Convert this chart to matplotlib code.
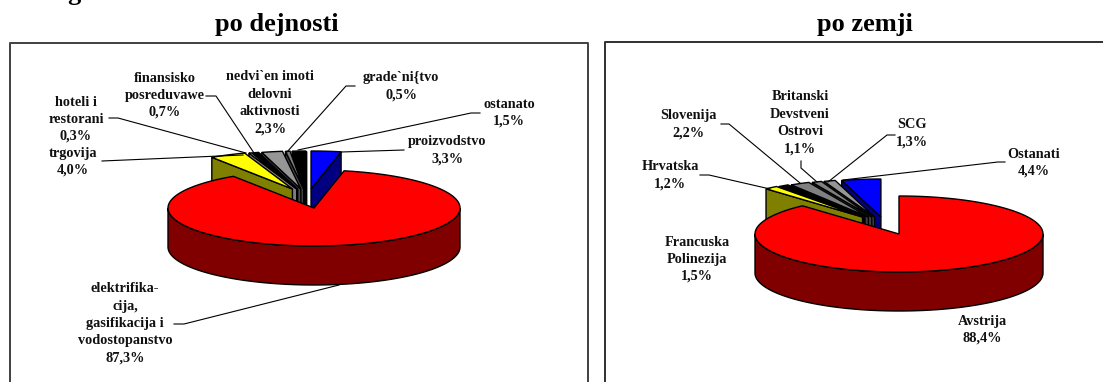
import numpy as np
import matplotlib
matplotlib.use('Agg')
import matplotlib.pyplot as plt
from matplotlib.colors import to_rgb
from matplotlib.patches import Polygon

# left chart, clockwise from 12 o'clock
left_names = ['proizvodstvo', 'elektrifika-\ncija,\ngasifikacija i\nvodostopanstvo', 'trgovija',
              'hoteli i\nrestorani', 'finansisko\nposreduvawe', 'nedvi`en imoti\ndelovni\naktivnosti',
              'grade`ni{tvo', 'ostanato']
left_values = [3.3, 87.3, 4.0, 0.3, 0.7, 2.3, 0.5, 1.5]
left_colors = ['#0000ff', '#ff0000', '#ffff00', '#ffffff', '#000000', '#969696', '#808080', '#000000']

# right chart
right_names = ['Avstrija', 'Francuska\nPolinezija', 'Hrvatska', 'Slovenija',
               'Britanski\nDevstveni\nOstrovi', 'SCG', 'Ostanati']
right_values = [88.4, 1.5, 1.2, 2.2, 1.1, 1.3, 4.4]
right_colors = ['#ff0000', '#ffff00', '#000000', '#808080', '#808080', '#969696', '#0000ff']

# label centre x, first line y (pixels)
left_label_pos = [(447, 142), (125, 289), (73, 153), (76, 102), (165, 78), (270, 77), (401, 78), (509, 104)]
right_label_pos = [(982, 321), (697, 242), (670, 167), (688, 116), (800, 97), (912, 125), (1034, 154)]

# leader lines (pixels)
left_leaders = [[(404, 150), (341, 152)],
                [(174, 324), (184, 324), (339, 285)],
                [(102, 161), (243, 155)],
                [(109, 118), (118, 118), (246, 153)],
                [(206, 96), (216, 96), (254, 153)],
                [(355, 86), (346, 86), (287, 152)],
                [(480, 113), (471, 113), (298, 150)]]
right_leaders = [[(700, 175), (709, 175), (770, 189)],
                 [(721, 124), (729, 124), (800, 183)],
                 [(801, 161), (801, 168), (817, 182)],
                 [(895, 135), (887, 135), (828, 182)],
                 [(1005, 162), (998, 162), (843, 180)]]

FONT = 'Liberation Serif'


def arc(cx, cy, rx, ry, a1, a2, n=120):
    t = np.deg2rad(np.linspace(a1, a2, n))
    return np.column_stack((cx + rx * np.cos(t), cy - ry * np.sin(t)))


def pie3d(ax, cx, cy, rx, ry, depth, values, colors, shift, explode, lift):
    angles = 90 - np.cumsum([0] + values) * 360 / sum(values)
    big = int(np.argmax(values))
    small = []
    for i in range(len(values)):
        if i != big:
            a1 = angles[i + 1] % 360
            a2 = a1 + (angles[i] - angles[i + 1])
            small.append((a1, a2, colors[i]))
    # back slices first
    small.sort(key=lambda s: -np.sin(np.deg2rad((s[0] + s[1]) / 2)))
    for a1, a2, col in small:
        mid = np.deg2rad((a1 + a2) / 2)
        x0 = cx + shift + explode * np.cos(mid)
        y0 = cy - lift
        dark = tuple(c * 0.5 for c in to_rgb(col))
        for a, show in ((a1, a1 < 90), (a2, a2 > 90)):
            if show:
                p = arc(x0, y0, rx, ry, a, a, 1)[0]
                ax.add_patch(Polygon([(x0, y0), p, (p[0], p[1] + depth), (x0, y0 + depth)],
                                     fc=dark, ec='black', lw=1))
        top = np.vstack(([(x0, y0)], arc(x0, y0, rx, ry, a1, a2, 20)))
        ax.add_patch(Polygon(top, fc=col, ec='black', lw=1))

    # the big slice goes on top of everything
    a_end = angles[big] % 360
    a_start = a_end - (angles[big] - angles[big + 1])
    col = colors[big]
    dark = tuple(c * 0.5 for c in to_rgb(col))
    front = arc(cx, cy, rx, ry, 180, 360)
    wall = np.vstack((front, front[::-1] + [0, depth]))
    ax.add_patch(Polygon(wall, fc=dark, ec='black', lw=1))
    top = np.vstack(([(cx, cy)], arc(cx, cy, rx, ry, a_start, a_end, 300)))
    ax.add_patch(Polygon(top, fc=col, ec='black', lw=1))


def labels(ax, names, values, pos):
    for name, val, (x, y) in zip(names, values, pos):
        lines = name.split('\n') + [('%.1f%%' % val).replace('.', ',')]
        for k, line in enumerate(lines):
            ax.text(x, y + k * 17.2, line, ha='center', va='center', fontsize=10.3,
                    family=FONT, weight='bold', color='#111111')


def leaders(ax, segs):
    for s in segs:
        pts = np.array(s)
        ax.plot(pts[:, 0], pts[:, 1], color='black', lw=0.8, solid_joinstyle='miter')


fig = plt.figure(figsize=(11.03, 3.82), dpi=100)
ax = fig.add_axes([0, 0, 1, 1])
ax.set_xlim(0, 1103)
ax.set_ylim(382, 0)
ax.axis('off')

# frames run off the bottom of the crop
ax.plot([9.5, 9.5, 588, 588], [390, 43, 43, 390], color='#404040', lw=1.4)
ax.plot([604.5, 604.5, 1110], [390, 42, 42], color='#303030', lw=1.4)

# clipped heading at the very top
ax.text(74, 0, 'g', ha='center', va='baseline', fontsize=19, family=FONT, weight='bold')
ax.text(277, 24, 'po dejnosti', ha='center', va='center', fontsize=19, family=FONT, weight='bold')
ax.text(865, 24, 'po zemji', ha='center', va='center', fontsize=19, family=FONT, weight='bold')

pie3d(ax, 314, 208, 146, 38, 39, left_values, left_colors, -6.5, 34, 19)
pie3d(ax, 899, 234, 144, 38, 39, right_values, right_colors, -13, 37, 17)

leaders(ax, left_leaders)
leaders(ax, right_leaders)
labels(ax, left_names, left_values, left_label_pos)
labels(ax, right_names, right_values, right_label_pos)

fig.savefig('out.png', dpi=100)
